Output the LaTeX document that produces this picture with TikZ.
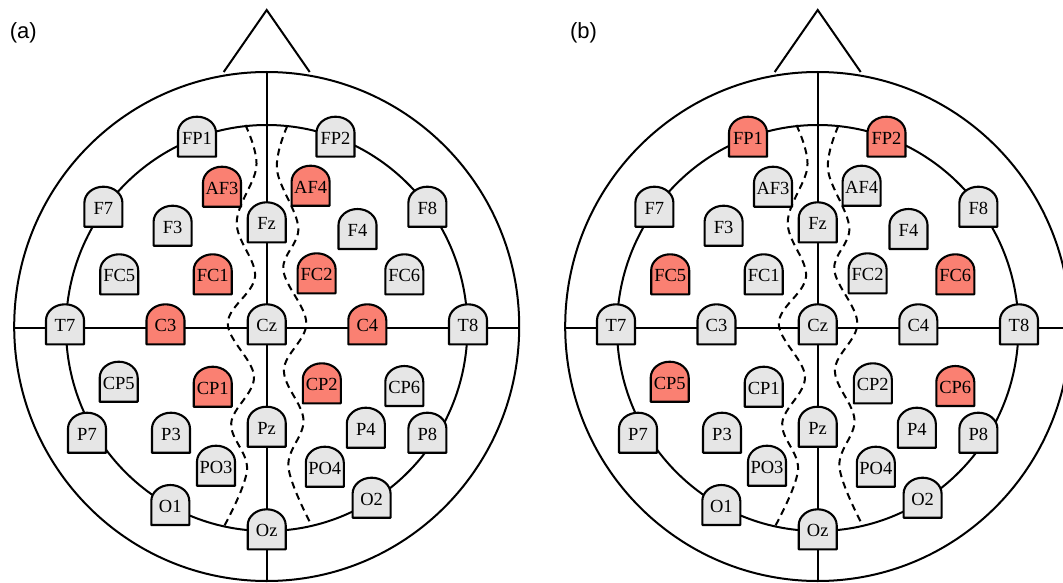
\documentclass[tikz,border=0pt]{standalone}
\usepackage{fontspec}
\setmainfont{Liberation Serif}
\newfontfamily\panelfont{Liberation Sans}
\usetikzlibrary{calc}

\definecolor{elecred}{RGB}{250,128,114}
\definecolor{elecgray}{RGB}{230,230,230}

\tikzset{
  headline/.style={draw=black, line width=2pt},
  divider/.style={draw=black, line width=2pt, dash pattern=on 7pt off 5pt},
  elecbox/.style={draw=black, line width=2.1pt, line join=round},
  eleclabel/.style={anchor=base, inner sep=0pt, font=\fontsize{18.5}{21}\selectfont},
  panellabel/.style={inner sep=0pt, font=\panelfont\fontsize{22}{25}\selectfont},
}

% electrode positions: name / x offset / y offset of the bottom edge (y grows downwards)
\def\electrodelayout{%
  FP1/-69.7/-171, FP2/68.8/-171, AF3/-44.7/-121, AF4/43.9/-122,
  F7/-163.3/-101, F3/-94.1/-82, Fz/0/-85.4, F4/90.8/-78.7, F8/160.7/-101,
  FC5/-147.5/-33.4, FC1/-54/-33.4, FC2/49.9/-34.4, FC6/137.6/-33.4,
  T7/-201.7/16.6, C3/-101.2/16.6, Cz/0/16.6, C4/100.6/16.6, T8/201.3/16.6,
  CP5/-148/74, CP1/-54/79, CP2/55.1/75.6, CP6/137.6/78.3,
  P7/-179.7/125, P3/-95.7/125, Pz/0/119, P4/99.1/120, P8/160.7/125,
  PO3/-50.7/158, PO4/58.1/159,
  O1/-96.4/197.3, Oz/0/221.6, O2/104.9/190}

% outline of one head: scalp, inner ring, midlines, nose, hemisphere boundaries
\newcommand\headframe[1]{%
  \coordinate (#1-top) at (0,-255.7);
  \coordinate (#1-bottom) at (0,253.3);
  \coordinate (#1-left) at (-252.5,0);
  \coordinate (#1-right) at (252.5,0);
  \coordinate (#1-noseL) at (-43,-255.7);
  \coordinate (#1-noseR) at (43,-255.7);
  \coordinate (#1-apex) at (0,-317.7);
  \draw[headline] (0,-1.2) ellipse [x radius=252.5, y radius=254.5];
  \draw[headline] (0,0.3) ellipse [x radius=200.7, y radius=203];
  \draw[headline] (#1-top) -- (#1-bottom);
  \draw[headline] (#1-left) -- (#1-right);
  \draw[headline, line join=miter] (#1-noseL) -- (#1-apex) -- (#1-noseR);
  \draw[divider] plot[smooth, tension=0.6] coordinates {
    (-21.3,-202.7) (-10.3,-161) (-30,-105) (-11.7,-51) (-38.9,-4.4)
    (-12.7,49) (-35.5,95.6) (-19.7,142.3) (-43.7,200.6)};
  \draw[divider] plot[smooth, tension=0.6] coordinates {
    (20.6,-201.7) (10.3,-158) (31.6,-100) (16.6,-58) (39.6,-4.4)
    (17.2,42.3) (36.8,92.3) (21.7,139) (44.7,197.3)};
  \foreach \n/\x/\y in \electrodelayout {\coordinate (#1-\n-base) at (\x,\y);}
}

% one electrode: #1 fill colour, #2 head prefix, #3 electrode name
\newcommand\electrode[3]{%
  \path[elecbox, fill=#1] (#2-#3-base) ++(-19,0) -- ++(0,-24)
    arc[start angle=180, end angle=360, x radius=19, y radius=16] -- ++(0,24) -- cycle;
  \node[eleclabel] (#2-#3) at ($(#2-#3-base)+(0,-12.5)$) {#3};
}

\begin{document}
\begin{tikzpicture}[x=1pt, y=-1pt]
  \useasboundingbox (0,0) rectangle (1063,583);
  \clip (0,0) rectangle (1063,583);

  \node[panellabel] (labelA) at (23.3,33.3) {(a)};
  \node[panellabel] (labelB) at (583.6,33.3) {(b)};

  % head (a)
  \begin{scope}[shift={(266.7,327.7)}]
    \headframe{a}
    \foreach \n in {FP1,FP2,F7,F3,Fz,F4,F8,FC5,FC6,T7,Cz,T8,CP5,CP6,P7,P3,Pz,P4,P8,PO3,PO4,O1,Oz,O2}
      {\electrode{elecgray}{a}{\n}}
    \foreach \n in {AF3,AF4,FC1,FC2,C3,C4,CP1,CP2}
      {\electrode{elecred}{a}{\n}}
  \end{scope}

  % head (b)
  \begin{scope}[shift={(817.7,327.7)}]
    \headframe{b}
    \foreach \n in {AF3,AF4,F7,F3,Fz,F4,F8,FC1,FC2,T7,C3,Cz,C4,T8,CP1,CP2,P7,P3,Pz,P4,P8,PO3,PO4,O1,Oz,O2}
      {\electrode{elecgray}{b}{\n}}
    \foreach \n in {FP1,FP2,FC5,FC6,CP5,CP6}
      {\electrode{elecred}{b}{\n}}
  \end{scope}
\end{tikzpicture}
\end{document}
